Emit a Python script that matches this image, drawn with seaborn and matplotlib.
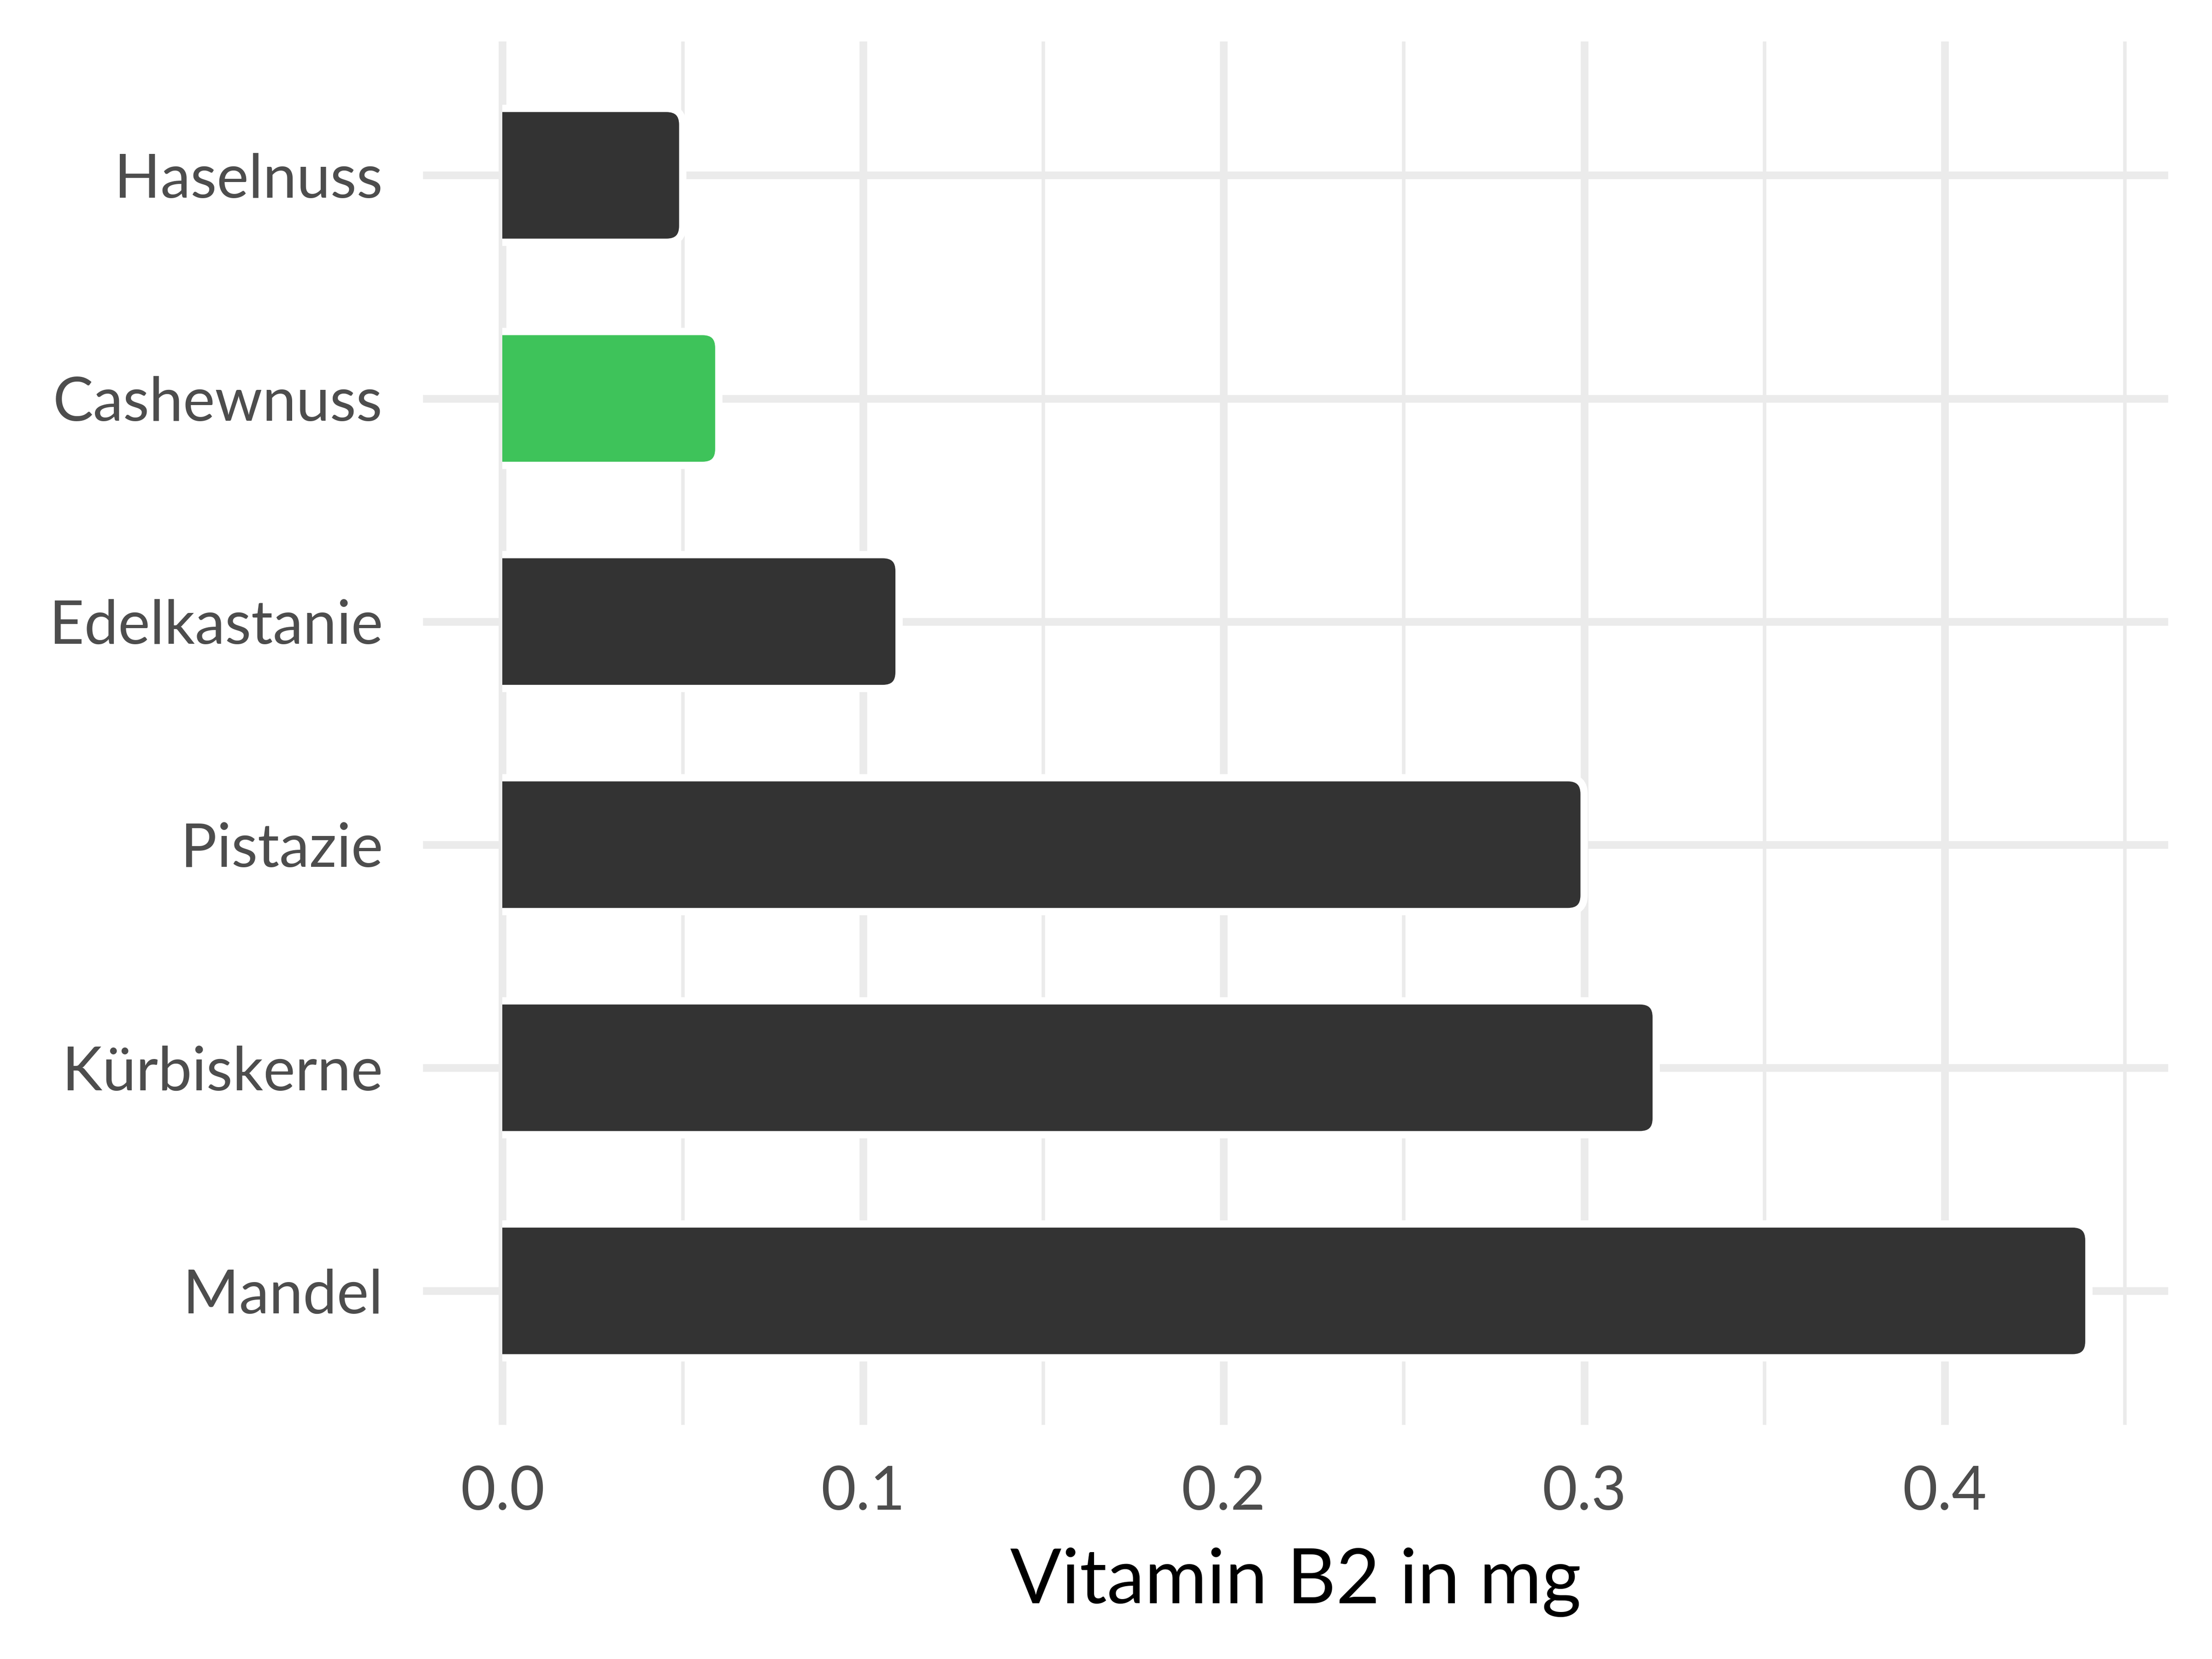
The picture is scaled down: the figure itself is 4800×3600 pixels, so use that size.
import pandas as pd
import seaborn as sns
import matplotlib.pyplot as plt
from matplotlib.patches import FancyBboxPatch, Rectangle
from matplotlib.ticker import MultipleLocator

# values
foods = ["Haselnuss", "Cashewnuss", "Edelkastanie", "Pistazie", "Kürbiskerne", "Mandel"]
vitamin_b2 = [0.05, 0.06, 0.11, 0.30, 0.32, 0.44]
highlight = "Cashewnuss"

df = pd.DataFrame({"food": foods, "value": vitamin_b2})
bar_colors = {f: ("#3ec35a" if f == highlight else "#333333") for f in foods}

sns.set_style("white")
plt.rcParams["font.family"] = ["Lato", "DejaVu Sans"]

fig = plt.figure(figsize=(16, 12), dpi=300)
ax = fig.add_axes([0.1913, 0.1412, 0.7889, 0.8338])

sns.barplot(data=df, x="value", y="food", hue="food", palette=bar_colors,
            order=foods, orient="h", width=0.6, saturation=1, legend=False, ax=ax)

ax.set_xlim(-0.022, 0.462)
ax.set_ylim(5.6, -0.6)

# grid like ggplot's theme_minimal
ax.set_axisbelow(True)
ax.xaxis.set_major_locator(MultipleLocator(0.1))
ax.xaxis.set_minor_locator(MultipleLocator(0.05))
ax.grid(which="major", axis="both", color="#ebebeb", linewidth=4.0, zorder=0)
ax.grid(which="minor", axis="x", color="#ebebeb", linewidth=1.8, zorder=0)
for s in ax.spines.values():
    s.set_visible(False)
ax.tick_params(which="both", length=0)
ax.tick_params(axis="y", pad=21, labelsize=31.5, labelcolor="#4d4d4d")
ax.tick_params(axis="x", pad=21, labelsize=31.5, labelcolor="#4d4d4d")
ax.set_xticklabels([f"{v:.1f}" for v in ax.get_xticks()])

ax.set_ylabel("")
ax.set_xlabel("Vitamin B2 in mg", fontsize=39.5, color="black", labelpad=14)

# rounded right ends, square at zero
fig.canvas.draw()
p0 = ax.transData.transform((0, 0))
p1 = ax.transData.transform((1, 1))
aspect = abs((p1[0] - p0[0]) / (p1[1] - p0[1]))
r = 0.0045
clip = Rectangle((0, -1), 1, 10, transform=ax.transData, visible=False)
ax.add_patch(clip)
for bar in list(ax.patches):
    if bar is clip:
        continue
    x, y = bar.get_x(), bar.get_y()
    w, h = bar.get_width(), bar.get_height()
    fb = FancyBboxPatch((x - 2 * r, y), w + 2 * r, h,
                        boxstyle=f"round,pad=0,rounding_size={r}",
                        mutation_aspect=aspect,
                        facecolor=bar.get_facecolor(), edgecolor="white",
                        linewidth=3.8, zorder=3)
    ax.add_patch(fb)
    fb.set_clip_path(clip)
    bar.set_visible(False)

fig.savefig("out.png", dpi=300, facecolor="white")
